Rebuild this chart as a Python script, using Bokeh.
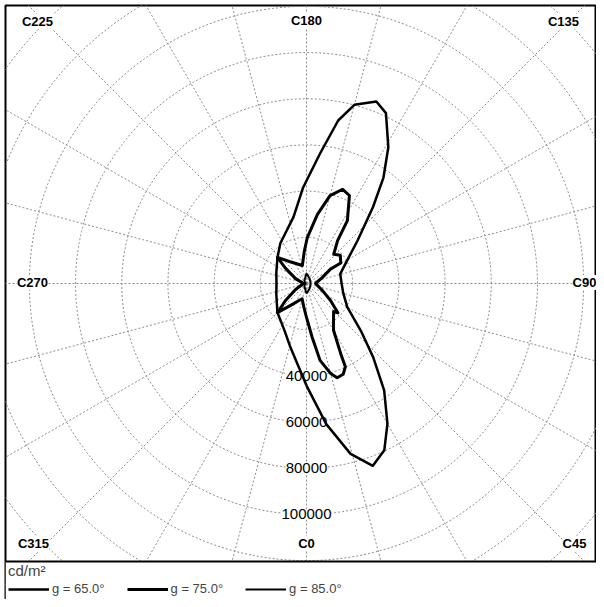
import numpy as np
from bokeh.plotting import figure
from bokeh.models import Range1d, ColumnDataSource, LabelSet, Legend, LegendItem, Span, BoxAnnotation
from bokeh.core.properties import value
from bokeh.embed import file_html
from bokeh.resources import INLINE

# ---------------- data ----------------
c_labels = ["C0", "C45", "C90", "C135", "C180", "C225", "C270", "C315"]
r_ticks = [40000, 60000, 80000, 100000]
series_names = ["g = 65.0°", "g = 75.0°", "g = 85.0°"]

g65_c = [0, 8, 14.5, 20, 25, 30, 36, 42, 49, 60, 75, 90, 106, 122, 130, 139, 144, 149, 155,
         159, 165, 169, 174, 182, 191, 213, 228, 250, 270, 290, 315, 335, 346, 360]
g65_L = [44200, 61500, 76200, 84000, 79700, 70100, 57200, 43300, 31200, 20400, 16500, 15200,
         15200, 21700, 28800, 43900, 56700, 68800, 81400, 84400, 80100, 71900, 56700, 41600,
         29400, 20800, 16900, 13900, 13000, 13900, 17800, 22500, 28600, 44200]

g75_c = [0, 6, 10, 15, 18, 22, 25, 26, 30, 36, 44, 47, 55, 66, 90, 111, 121, 121, 130, 137,
         144, 147, 154, 159, 165, 171, 179, 184, 193, 218, 228, 234, 246, 270, 299, 309, 315,
         323, 344, 353, 358, 360]
g75_L = [14700, 23400, 33800, 40300, 42900, 42400, 39800, 33800, 23400, 19900, 16900, 18600,
         12600, 7600, 3900, 7400, 12100, 17300, 19100, 17300, 22900, 32500, 42400, 43700,
         39400, 30300, 19900, 13900, 8000, 12100, 16900, 11300, 5200, 1300, 5400, 11700,
         17800, 12100, 6900, 10000, 13000, 14700]

g85_c = [0, 30, 60, 90, 120, 150, 180, 210, 240, 270, 300, 330, 360]
g85_L = [4300, 2600, 1900, 1700, 1900, 2600, 4300, 1700, 900, 400, 900, 1700, 4300]

# ---------------- layout (figure pixel coordinates) ----------------
W, H = 596, 599
FL, FT = 5, 5              # frame left / top offset
CX, CY = 306, 283          # pole position in figure pixels
UNIT = 433.0               # cd/m2 per pixel
SEP_PX = 561               # separator between diagram and legend
FONT = "Liberation Sans"

def px(xp, yp):
    return (xp - CX) * UNIT, (CY - yp) * UNIT

p = figure(width=W, height=H, output_backend="svg", toolbar_location=None,
           x_range=Range1d((FL - CX) * UNIT, (W - CX) * UNIT),
           y_range=Range1d((CY - H) * UNIT, (CY - FT) * UNIT),
           x_axis_location=None, y_axis_location=None,
           min_border_left=FL, min_border_top=FT, min_border_right=0, min_border_bottom=0,
           background_fill_color="white", border_fill_color="white",
           outline_line_color="black", outline_line_width=2)
p.grid.visible = False

# polar grid
t = np.linspace(0, 2 * np.pi, 361)
circ_r = np.arange(20000, 200001, 20000)
p.multi_line(xs=[list(r * np.cos(t)) for r in circ_r], ys=[list(r * np.sin(t)) for r in circ_r],
             line_color="#8c8c8c", line_width=1, line_dash="2 2")
spokes = np.radians(np.arange(0, 360, 15))
RMAX = 400000
p.multi_line(xs=[[0, RMAX * np.sin(a)] for a in spokes], ys=[[0, -RMAX * np.cos(a)] for a in spokes],
             line_color="#8c8c8c", line_width=1, line_dash="2 2")

# curves
renderers = []
for cs, Ls, w in [(g65_c, g65_L, 2.5), (g75_c, g75_L, 3), (g85_c, g85_L, 2)]:
    a = np.radians(cs)
    L = np.array(Ls, dtype=float)
    src = ColumnDataSource(dict(x=L * np.sin(a), y=-L * np.cos(a)))
    renderers.append(p.line("x", "y", source=src, line_color="black", line_width=w,
                            line_join="round", level="overlay"))

# legend area mask and separator
sep_y = px(0, SEP_PX)[1]
p.add_layout(BoxAnnotation(top=sep_y, fill_color="white", fill_alpha=1, line_alpha=0))
p.add_layout(Span(location=sep_y, dimension="width", line_color="black", line_width=2))

# C-plane labels
lab_px = {"C0": (306, 543), "C45": (574, 543), "C90": (584, 282), "C135": (563, 21),
          "C180": (306, 20), "C225": (37, 21), "C270": (32, 282), "C315": (33, 543)}
lx = [px(*lab_px[c])[0] for c in c_labels]
ly = [px(*lab_px[c])[1] for c in c_labels]
p.add_layout(LabelSet(x="x", y="y", text="t", source=ColumnDataSource(dict(x=lx, y=ly, t=c_labels)),
                      text_align="center", text_baseline="middle", text_font=value(FONT),
                      text_font_size="13px", text_font_style="bold", text_color="black",
                      background_fill_color="white", background_fill_alpha=1))

# radius labels along C0
p.add_layout(LabelSet(x="x", y="y", text="t",
                      source=ColumnDataSource(dict(x=[0] * len(r_ticks), y=[-r for r in r_ticks],
                                                   t=[str(r) for r in r_ticks])),
                      text_align="center", text_baseline="middle", text_font=value(FONT),
                      text_font_size="15px", text_color="black",
                      background_fill_color="white", background_fill_alpha=1))

legend = Legend(items=[LegendItem(label=n, renderers=[r]) for n, r in zip(series_names, renderers)],
                title="cd/m²", orientation="horizontal", location=(0, 0), margin=0, padding=3,
                label_text_font=FONT, label_text_font_size="13px",
                glyph_width=41, glyph_height=12, label_height=12, label_standoff=3, spacing=22,
                border_line_alpha=0, background_fill_alpha=0,
                title_text_font=FONT, title_text_font_size="15px",
                title_text_font_style="normal", title_standoff=2)
p.add_layout(legend)

open("out.html", "w").write(file_html(p, INLINE))
